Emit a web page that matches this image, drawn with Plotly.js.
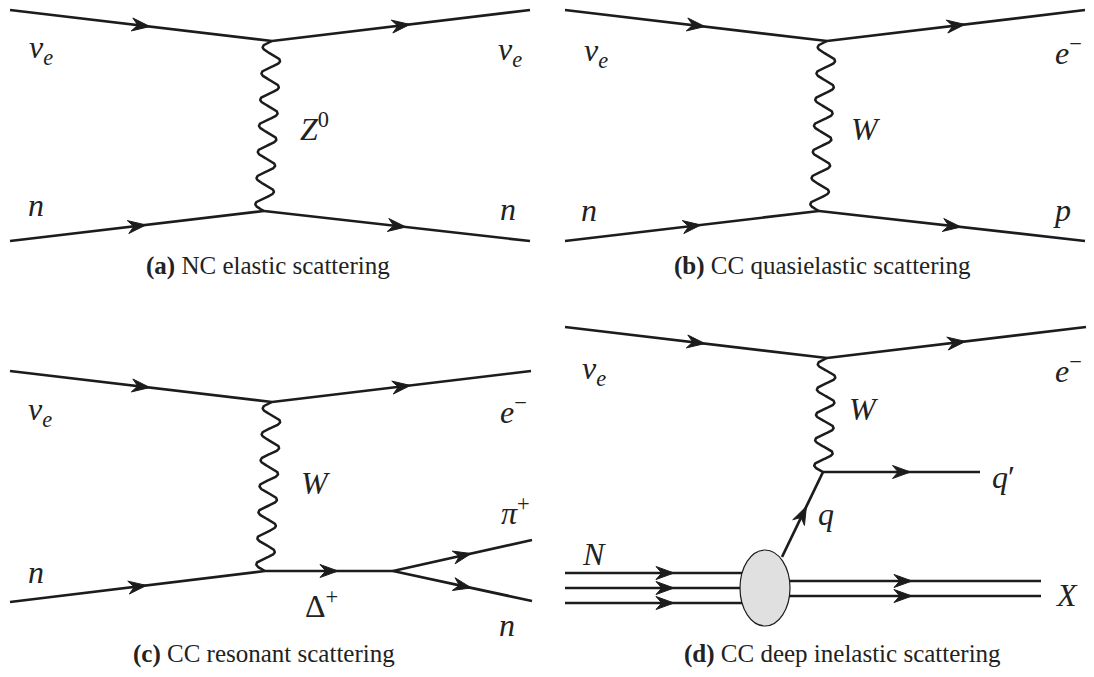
<!DOCTYPE html>
<html>
<head>
<meta charset="utf-8">
<script src="https://cdn.plot.ly/plotly-3.0.1.min.js"></script>
<style>html,body{margin:0;padding:0;background:#fff}</style>
</head>
<body>
<div id="fig" style="width:1094px;height:677px"></div>
<script>
// Canvas units: one unit per pixel, y growing downwards.
const W = 1094, H = 677;

// Fermion propagators with a direction arrow: [x0, y0, x1, y1]
const fermionsA = [[10,10,272,41],[272,41,530,10],[10,241,264,211],[264,211,530,241]];
const fermionsB = [[565,10,827,41],[827,41,1085,10],[565,241,819,211],[819,211,1085,241]];
const fermionsC = [[10,371,272,402],[272,402,531,371],[10,602,265,571],[265,571,393,571],[393,571,532,540],[393,571,532,601]];
const fermionsD = [[565,327,827,358],[827,358,1086,327],[823,472,980,472],[782,557,823,472]];
// Incoming nucleon (three quark lines) and outgoing hadronic system X (two lines)
const nucleonLines = [[565,573,765,573],[565,588,765,588],[565,603,765,603]];
const hadronLines = [[765,581,1041,581],[765,596,1041,596]];
// Exchanged gauge bosons: [x0, y0, x1, y1, wiggles]
const bosons = [[272,41,264,211,6.5],[827,41,819,211,6.5],[272,402,265,571,6.5],[827,358,823,472,4.5]];
// Nucleon blob: [cx, cy, rx, ry]
const blob = [765,588,25,38];

// Particle labels
const labelText = [
  '<i>ν</i><sub><i>e</i></sub>','<i>ν</i><sub><i>e</i></sub>','<i>n</i>','<i>n</i>','<i>Z</i><sup>0</sup>',
  '<i>ν</i><sub><i>e</i></sub>','<i>e</i><sup>−</sup>','<i>n</i>','<i>p</i>','<i>W</i>',
  '<i>ν</i><sub><i>e</i></sub>','<i>e</i><sup>−</sup>','<i>n</i>','<i>W</i>','Δ<sup>+</sup>','<i>π</i><sup>+</sup>','<i>n</i>',
  '<i>ν</i><sub><i>e</i></sub>','<i>e</i><sup>−</sup>','<i>W</i>','<i>q</i>′','<i>q</i>','<i>N</i>','<i>X</i>'
];
const labelX = [41,510,36,508,314, 596,1068,589,1062,866, 40,513,36,316,321,515,507, 594,1068,864,1003,826,594,1066];
const labelY = [49,51,205,209,127, 52,51,210,210,129, 411,410,572,483,604,511,625, 370,369,409,477,514,554,595];

// Sub-figure captions
const captionText = [
  '<b>(a)</b> NC elastic scattering',
  '<b>(b)</b> CC quasielastic scattering',
  '<b>(c)</b> CC resonant scattering',
  '<b>(d)</b> CC deep inelastic scattering'
];
const captionX = [268,822,264,842];
const captionY = [266,266,654,654];

const INK = '#1c1c1c';
const SERIF = 'Liberation Serif';

function segmentsTrace(segs, width) {
  const x = [], y = [];
  segs.forEach(s => { x.push(s[0], s[2], null); y.push(s[1], s[3], null); });
  return {type:'scatter', mode:'lines', x, y, line:{color:INK, width}, hoverinfo:'skip'};
}

// Barbed arrowhead centred on the middle of a segment, pointing along it
function arrowTrace(s, L, hw) {
  const dx = s[2]-s[0], dy = s[3]-s[1], len = Math.hypot(dx, dy);
  const ux = dx/len, uy = dy/len, px = -uy, py = ux;
  const mx = s[0]+dx/2, my = s[1]+dy/2;
  const tx = mx+ux*L/2, ty = my+uy*L/2;
  const notch = 0.68*L;
  return {
    type:'scatter', mode:'lines', fill:'toself', fillcolor:INK,
    x:[tx, tx-ux*L+px*hw, tx-ux*notch, tx-ux*L-px*hw, tx],
    y:[ty, ty-uy*L+py*hw, ty-uy*notch, ty-uy*L-py*hw, ty],
    line:{color:INK, width:1}, hoverinfo:'skip'
  };
}

// Wiggly boson line along a segment
function bosonTrace(b, amp) {
  const [x0,y0,x1,y1,n] = b;
  const dx = x1-x0, dy = y1-y0, len = Math.hypot(dx, dy);
  const px = -dy/len, py = dx/len;
  const steps = Math.ceil(len*3);
  const x = [], y = [];
  for (let i = 0; i <= steps; i++) {
    const t = i/steps, off = amp*Math.sin(2*Math.PI*n*t);
    x.push(x0+dx*t+px*off); y.push(y0+dy*t+py*off);
  }
  return {type:'scatter', mode:'lines', x, y, line:{color:INK, width:2.5}, hoverinfo:'skip'};
}

const fermions = [].concat(fermionsA, fermionsB, fermionsC, fermionsD);
const traces = [];
traces.push(segmentsTrace(fermions, 2.7));
traces.push(segmentsTrace(nucleonLines.concat(hadronLines), 2.7));
bosons.forEach(b => traces.push(bosonTrace(b, 9)));
fermions.forEach(s => traces.push(arrowTrace(s, 18, 6.5)));
nucleonLines.concat(hadronLines).forEach(s => traces.push(arrowTrace(s, 18, 6.5)));

const annotations = [];
labelText.forEach((t, i) => annotations.push({
  text:t, x:labelX[i], y:labelY[i], xref:'x', yref:'y', showarrow:false,
  xanchor:'center', yanchor:'middle',
  font:{family:SERIF, size:32, color:'#222'}
}));
captionText.forEach((t, i) => annotations.push({
  text:t, x:captionX[i], y:captionY[i], xref:'x', yref:'y', showarrow:false,
  xanchor:'center', yanchor:'middle',
  font:{family:SERIF, size:25, color:'#222'}
}));

const shapes = [{
  type:'circle', xref:'x', yref:'y', layer:'above',
  x0:blob[0]-blob[2], x1:blob[0]+blob[2], y0:blob[1]-blob[3], y1:blob[1]+blob[3],
  fillcolor:'#e0e0e0', line:{color:INK, width:1.2}
}];

const layout = {
  width:W, height:H, margin:{l:0,r:0,t:0,b:0,pad:0},
  font:{family:SERIF},
  paper_bgcolor:'#fff', plot_bgcolor:'#fff', showlegend:false,
  xaxis:{range:[0,W], visible:false, fixedrange:true},
  yaxis:{range:[H,0], visible:false, fixedrange:true},
  annotations, shapes
};

Plotly.newPlot('fig', traces, layout, {staticPlot:true, displayModeBar:false});
</script>
</body>
</html>
